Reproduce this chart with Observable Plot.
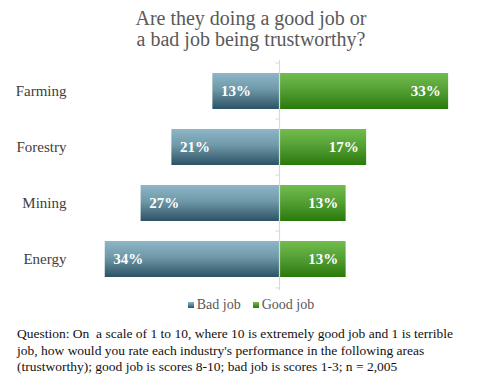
<!DOCTYPE html>
<html>
<head>
<meta charset="utf-8">
<script src="https://cdn.jsdelivr.net/npm/d3@7"></script>
<script src="https://cdn.jsdelivr.net/npm/@observablehq/plot@0.6"></script>
<style>
  html, body { margin: 0; padding: 0; background: #fff; }
  #wrap { position: relative; width: 502px; height: 381px; font-family: "Liberation Serif", serif; }
  #title { position: absolute; top: 8px; left: 0; width: 502px; text-align: center; font-size: 20px; line-height: 21px; color: #595959; }
  #chart { position: absolute; top: 60px; left: 0; }
  #chart svg text { font-family: "Liberation Serif", serif; }
  #legend { position: absolute; top: 297px; left: 0; width: 502px; text-align: center; font-size: 14px; color: #595959; }
  #legend .item { display: inline-block; margin: 0 6px; }
  #legend .sw { display: inline-block; width: 6px; height: 6px; margin-right: 3px; vertical-align: 1px; }
  #caption { position: absolute; top: 326px; left: 17px; width: 480px; font-size: 13.5px; line-height: 16.5px; color: #111; white-space: nowrap; }
</style>
</head>
<body>
<div id="wrap">
  <div id="title">Are they doing a good job or<br>a bad job being trustworthy?</div>
  <div id="chart"></div>
  <div id="legend"></div>
  <div id="caption">Question: On&nbsp; a scale of 1 to 10, where 10 is extremely good job and 1 is terrible<br>job, how would you rate each industry's performance in the following areas<br>(trustworthy); good job is scores 8-10; bad job is scores 1-3; n = 2,005</div>
</div>
<script>
const categories = ["Farming", "Forestry", "Mining", "Energy"];
const badJob = [13, 21, 27, 34];
const goodJob = [33, 17, 13, 13];
const seriesNames = ["Bad job", "Good job"];

const data = categories.map((c, i) => ({cat: c, bad: badJob[i], good: goodJob[i]}));

const H = 230;
const padIn = 0.35, padOut = 0.2;
const step = H / (categories.length - padIn + 2 * padOut);
const serif = '"Liberation Serif", serif';

const chart = Plot.plot({
  width: 502,
  height: H,
  marginLeft: 74,
  marginRight: 18,
  marginTop: 0,
  marginBottom: 0,
  style: {fontFamily: serif, fontSize: "15px", color: "#404040", background: "transparent"},
  x: {domain: [-40, 40], axis: null},
  y: {domain: categories, paddingInner: padIn, paddingOuter: padOut, label: null},
  marks: [
    Plot.axisY({tickSize: 0, tickPadding: 8, label: null, fontSize: 15, fill: "#404040", fontFamily: serif}),
    Plot.barX(data, {y: "cat", x1: 0, x2: d => -d.bad, fill: "url(#badGrad)"}),
    Plot.barX(data, {y: "cat", x1: 0, x2: d => d.good, fill: "url(#goodGrad)"}),
    Plot.ruleX([0], {stroke: "#d9d9d9", strokeWidth: 1.2}),
    Plot.ruleY(data, {y: "cat", x1: -0.7, x2: 0, dy: -step / 2, stroke: "#d9d9d9"}),
    Plot.ruleY(data.slice(-1), {y: "cat", x1: -0.7, x2: 0, dy: step / 2, stroke: "#d9d9d9"}),
    Plot.text(data, {y: "cat", x: d => -d.bad, text: d => d.bad + "%", textAnchor: "start", dx: 8, fill: "white", fontWeight: "bold", fontSize: 15, fontFamily: serif}),
    Plot.text(data, {y: "cat", x: d => d.good, text: d => d.good + "%", textAnchor: "end", dx: -8, fill: "white", fontWeight: "bold", fontSize: 15, fontFamily: serif})
  ]
});

// gradients
const ns = "http://www.w3.org/2000/svg";
const defs = document.createElementNS(ns, "defs");
function grad(id, top, mid, bottom) {
  const g = document.createElementNS(ns, "linearGradient");
  g.setAttribute("id", id);
  g.setAttribute("x1", "0"); g.setAttribute("y1", "0");
  g.setAttribute("x2", "0"); g.setAttribute("y2", "1");
  [[0, top], [0.45, mid], [1, bottom]].forEach(([o, c]) => {
    const s = document.createElementNS(ns, "stop");
    s.setAttribute("offset", o);
    s.setAttribute("stop-color", c);
    g.appendChild(s);
  });
  defs.appendChild(g);
}
grad("badGrad", "#8db7c6", "#6f98a8", "#2b5365");
grad("goodGrad", "#72bd4e", "#55a136", "#2a790b");
chart.insertBefore(defs, chart.firstChild);
document.getElementById("chart").appendChild(chart);

// legend
const legendColors = ["linear-gradient(#8db7c6,#2b5365)", "linear-gradient(#72bd4e,#2a790b)"];
document.getElementById("legend").innerHTML = seriesNames.map((n, i) =>
  `<span class="item"><span class="sw" style="background:${legendColors[i]}"></span>${n}</span>`).join("");
</script>
</body>
</html>
